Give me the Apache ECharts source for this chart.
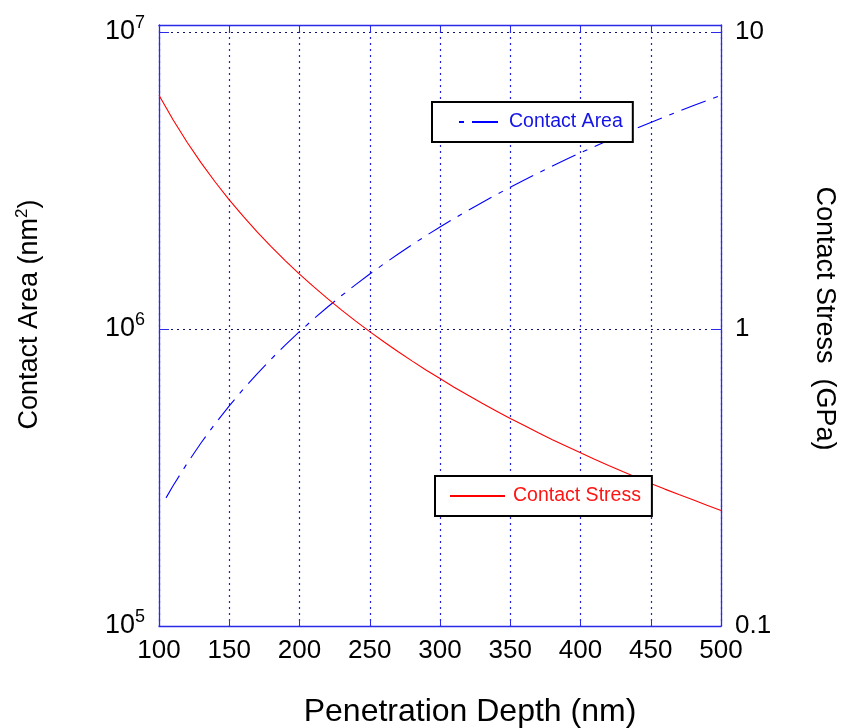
<!DOCTYPE html>
<html>
<head>
<meta charset="utf-8">
<script src="https://cdn.jsdelivr.net/npm/echarts@6/dist/echarts.min.js"></script>
<style>
  html, body { margin: 0; padding: 0; background: #fff; }
  #chart { width: 843px; height: 728px; }
</style>
</head>
<body>
<div id="chart"></div>
<script>
// Penetration depth (nm) for the stress curve
const stressDepth = [100, 110, 120, 130, 140, 150, 160, 170, 180, 190, 200,
  210, 220, 230, 240, 250, 260, 270, 280, 290, 300,
  310, 320, 330, 340, 350, 360, 370, 380, 390, 400,
  410, 420, 430, 440, 450, 460, 470, 480, 490, 500];
// Contact stress (GPa)
const stressValues = [6.125, 5.062, 4.253, 3.624, 3.125, 2.722, 2.393, 2.119, 1.890, 1.697, 1.531,
  1.389, 1.265, 1.158, 1.063, 0.980, 0.906, 0.840, 0.781, 0.728, 0.681,
  0.637, 0.598, 0.562, 0.530, 0.500, 0.473, 0.447, 0.424, 0.403, 0.383,
  0.364, 0.347, 0.331, 0.316, 0.302, 0.289, 0.277, 0.266, 0.255, 0.245];

// Penetration depth (nm) for the area curve
const areaDepth = [105, 110, 120, 130, 140, 150, 160, 170, 180, 190, 200,
  210, 220, 230, 240, 250, 260, 270, 280, 290, 300,
  310, 320, 330, 340, 350, 360, 370, 380, 390, 400,
  410, 420, 430, 440, 450, 460, 470, 480, 490, 500];
// Contact area (nm^2)
const areaValues = [2.70e5, 2.965e5, 3.528e5, 4.141e5, 4.802e5, 5.513e5, 6.272e5, 7.081e5, 7.938e5, 8.845e5, 9.80e5,
  1.0805e6, 1.1858e6, 1.2961e6, 1.4112e6, 1.5313e6, 1.6562e6, 1.7861e6, 1.9208e6, 2.0605e6, 2.205e6,
  2.3545e6, 2.5088e6, 2.6681e6, 2.8322e6, 3.0013e6, 3.1752e6, 3.3541e6, 3.5378e6, 3.7265e6, 3.92e6,
  4.1185e6, 4.3218e6, 4.5301e6, 4.7432e6, 4.9613e6, 5.1842e6, 5.4121e6, 5.6448e6, 5.8825e6, 6.125e6];

// Axis ranges
const depthRange = [100, 500];
const areaRange = [1e5, 1.0558e7];
const stressRange = [0.1, 10.558];

const FONT = 'Liberation Sans, Arial, Helvetica, sans-serif';
const AXIS_BLUE = '#2a2ae8';
const GRID_BLUE = '#2020dc';

const pairs = (xs, ys) => xs.map((x, i) => [x, ys[i]]);

const chart = echarts.init(document.getElementById('chart'));

chart.setOption({
  backgroundColor: '#fff',
  animation: false,
  textStyle: { fontFamily: FONT },
  grid: { left: 159, right: 122, top: 25, bottom: 102, outerBoundsMode: 'none', containLabel: false },
  legend: [
    {
      data: ['Contact Area'],
      left: 432, top: 102,
      padding: [10, 10, 10, 26],
      borderColor: '#000', borderWidth: 2, backgroundColor: '#fff',
      itemWidth: 40, itemHeight: 14,
      itemStyle: { opacity: 0 },
      lineStyle: { dashOffset: 34 },
      textStyle: { color: '#1414e6', fontSize: 19.5, fontFamily: FONT, padding: [0, 0, 0, 5] }
    },
    {
      data: ['Contact Stress'],
      left: 435, top: 476,
      padding: [10, 11, 10, 14],
      borderColor: '#000', borderWidth: 2, backgroundColor: '#fff',
      itemWidth: 55, itemHeight: 14,
      itemStyle: { opacity: 0 },
      textStyle: { color: '#ff1414', fontSize: 19.5, fontFamily: FONT, padding: [0, 0, 0, 3] }
    }
  ],
  xAxis: [
    {
      type: 'value', position: 'bottom',
      min: depthRange[0], max: depthRange[1], interval: 50,
      name: 'Penetration Depth (nm)', nameLocation: 'middle', nameGap: 70,
      nameTextStyle: { fontSize: 32, color: '#000', fontFamily: FONT, padding: [0, 0, 0, 60] },
      axisLine: { lineStyle: { color: AXIS_BLUE, width: 1.3 } },
      axisTick: { inside: true, length: 7, lineStyle: { color: AXIS_BLUE } },
      axisLabel: { fontSize: 26, color: '#000', margin: 12, fontFamily: FONT },
      splitLine: { show: true, lineStyle: { color: GRID_BLUE, type: [2, 4], width: 1.2 } }
    },
    {
      type: 'value', position: 'top',
      min: depthRange[0], max: depthRange[1], interval: 50,
      axisLine: { lineStyle: { color: AXIS_BLUE, width: 1.3 } },
      axisTick: { inside: true, length: 7, lineStyle: { color: AXIS_BLUE } },
      axisLabel: { show: false },
      splitLine: { show: false }
    }
  ],
  yAxis: [
    {
      type: 'log', logBase: 10, position: 'left',
      min: areaRange[0], max: areaRange[1], interval: 1,
      name: 'Contact Area (nm{s|2})', nameLocation: 'middle', nameGap: 114, nameRotate: 90,
      nameTextStyle: {
        fontSize: 27, color: '#000', fontFamily: FONT, padding: [0, 0, 0, 22],
        rich: { s: { fontSize: 17, padding: [0, 0, 14, 0], fontFamily: FONT, color: '#000' } }
      },
      axisLine: { show: true, lineStyle: { color: AXIS_BLUE, width: 1.3 } },
      axisTick: { inside: true, length: 10, lineStyle: { color: AXIS_BLUE } },
      axisLabel: {
        color: '#000', margin: 14, showMaxLabel: false,
        formatter: v => '10{e|' + Math.round(Math.log10(v)) + '}',
        rich: {
          e: { fontSize: 18, padding: [0, 0, 18, 0], fontFamily: FONT, color: '#000' }
        },
        fontSize: 27, fontFamily: FONT
      },
      splitLine: { show: true, showMinLine: false, showMaxLine: false,
        lineStyle: { color: '#101070', type: [2, 4], width: 1.2 } },
      minorTick: { show: false }
    },
    {
      type: 'log', logBase: 10, position: 'right',
      min: stressRange[0], max: stressRange[1], interval: 1,
      name: 'Contact Stress  (GPa)', nameLocation: 'middle', nameGap: 90, nameRotate: -90,
      nameTextStyle: { fontSize: 27, color: '#000', fontFamily: FONT, padding: [0, 14, 0, 0] },
      axisLine: { show: true, lineStyle: { color: AXIS_BLUE, width: 1.3 } },
      axisTick: { inside: true, length: 10, lineStyle: { color: AXIS_BLUE } },
      axisLabel: {
        color: '#000', margin: 14, showMaxLabel: false, fontSize: 26, fontFamily: FONT,
        formatter: v => String(Number(v.toPrecision(2)))
      },
      splitLine: { show: false }
    }
  ],
  series: [
    {
      name: 'Contact Area', type: 'line',
      xAxisIndex: 0, yAxisIndex: 0,
      data: pairs(areaDepth, areaValues),
      symbol: 'none', smooth: false,
      color: '#0000ff',
      lineStyle: { color: '#0000ff', width: 1.1, type: [26, 8, 5, 8] },
      z: 3
    },
    {
      name: 'Contact Stress', type: 'line',
      xAxisIndex: 0, yAxisIndex: 1,
      data: pairs(stressDepth, stressValues),
      symbol: 'none', smooth: false,
      color: '#ff0000',
      lineStyle: { color: '#ff0000', width: 1.1, type: 'solid' },
      z: 3
    }
  ]
});
</script>
</body>
</html>
